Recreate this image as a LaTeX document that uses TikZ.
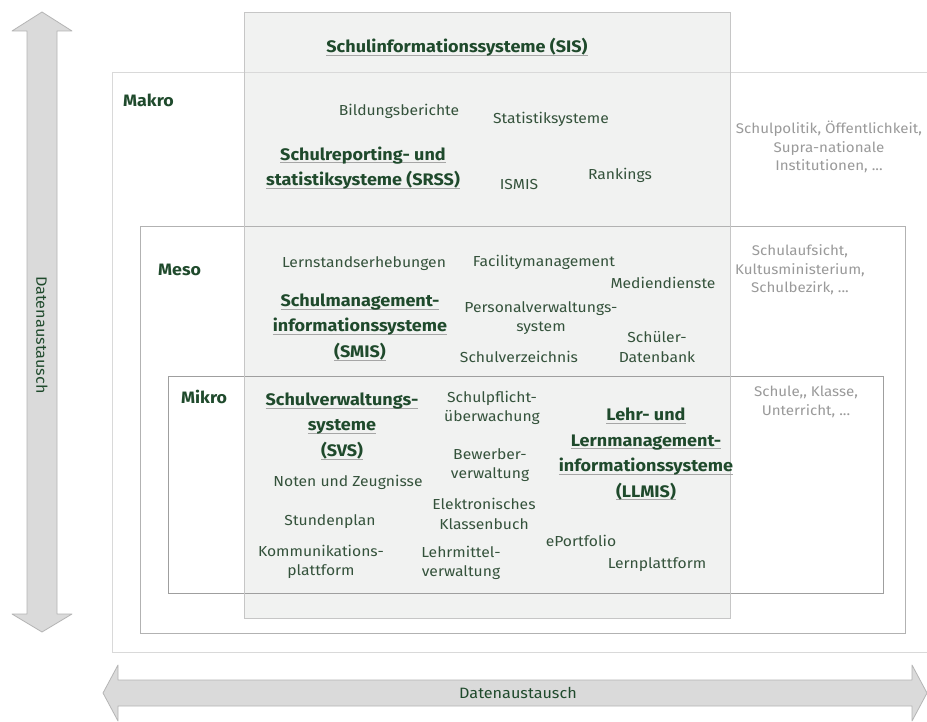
\documentclass[tikz,border=0pt]{standalone}
\usepackage{fontspec}
\setmainfont{Fira Sans}[FakeStretch=1.08]
\begin{document}
\definecolor{headc}{HTML}{1F4A2C}
\definecolor{itemc}{HTML}{34523B}
\definecolor{sidec}{HTML}{9A9A9A}
\definecolor{sisfill}{HTML}{F1F2F1}
\definecolor{arrfill}{HTML}{DADADA}
\definecolor{arrline}{HTML}{B5B5B5}
\newcommand{\hul}[1]{\setbox0\hbox{#1}\rlap{\color{gray!70}\rule[-3pt]{\wd0}{0.7pt}}\box0}
\begin{tikzpicture}[x=1pt,y=-1pt,
  itm/.style={text=itemc, font=\fontsize{14.5}{19.5}\selectfont, align=center, inner sep=0pt},
  hd/.style={text=headc, font=\fontsize{16.7}{25.5}\selectfont\bfseries, align=center, inner sep=0pt},
  sd/.style={text=sidec, font=\fontsize{14}{18.5}\selectfont, align=center, inner sep=0pt},
  lvl/.style={text=headc, font=\fontsize{16.5}{18}\selectfont\bfseries, anchor=west, inner sep=0pt},
  arr/.style={fill=arrfill, draw=arrline, line width=0.8pt, line join=round},
  dtx/.style={text=headc, font=\fontsize{15}{18}\selectfont, inner sep=0pt}]
\useasboundingbox (0,0) rectangle (927,722);
\fill[white] (0,0) rectangle (927,722);
% SIS background
\fill[sisfill] (244,12) rectangle (730,618);
% level boxes
\draw[gray!30, line width=1pt] (112,73) rectangle (935,652);
\draw[gray!60, line width=0.8pt] (140,226) rectangle (905,633);
\draw[gray!75, line width=0.8pt] (168,376) rectangle (883,593);
% SIS border
\draw[gray!45, line width=0.8pt] (244,12) rectangle (730,618);
% vertical arrow
\draw[arr] (42,12) -- (72,31) -- (57,31) -- (57,614) -- (72,614) -- (42,632)
  -- (12,614) -- (27,614) -- (27,31) -- (12,31) -- cycle;
\node[dtx, rotate=-90] (dv) at (42,335) {Datenaustausch};
% horizontal arrow
\draw[arr] (103,693) -- (118,665) -- (118,680) -- (912,680) -- (912,665) -- (927,693)
  -- (912,721) -- (912,706) -- (118,706) -- (118,721) -- cycle;
\node[dtx] (dh) at (518,693) {Datenaustausch};
% SIS title
\node[hd] (sis) at (457,47) {\hul{Schulinformationssysteme (SIS)}};
% Makro
\node[lvl] (makro) at (123,100) {Makro};
\node[itm] (bild) at (399,111) {Bildungsberichte};
\node[itm] (stat) at (551,119) {Statistiksysteme};
\node[hd] (srss) at (363,168) {\hul{Schulreporting- und}\\\hul{statistiksysteme (SRSS)}};
\node[itm] (ismis) at (519,185) {ISMIS};
\node[itm] (rank) at (620,175) {Rankings};
\node[sd] (s1) at (829,147) {Schulpolitik, Öffentlichkeit,\\Supra-nationale\\Institutionen, ...};
% Meso
\node[lvl] (meso) at (158,270) {Meso};
\node[itm] (lern) at (364,264) {Lernstandserhebungen};
\node[itm] (fac) at (544,262) {Facilitymanagement};
\node[itm] (med) at (663,283) {Mediendienste};
\node[hd] (smis) at (360,327) {\hul{Schulmanagement-}\\\hul{informationssysteme}\\\hul{(SMIS)}};
\node[itm] (pers) at (541,318) {Personalverwaltungs-\\system};
\node[itm] (sverz) at (519,357) {Schulverzeichnis};
\node[itm] (sdb) at (657,347) {Schüler-\\Datenbank};
\node[sd] (s2) at (800,270) {Schulaufsicht,\\Kultusministerium,\\Schulbezirk, ...};
% Mikro
\node[lvl] (mikro) at (181,397) {Mikro};
\node[hd] (svs) at (342,426) {\hul{Schulverwaltungs-}\\\hul{systeme}\\\hul{(SVS)}};
\node[itm] (spf) at (492,408) {Schulpflicht-\\überwachung};
\node[hd] (llmis) at (646,454) {\hul{Lehr- und}\\\hul{Lernmanagement-}\\\hul{informationssysteme}\\\hul{(LLMIS)}};
\node[itm] (bew) at (490,465) {Bewerber-\\verwaltung};
\node[itm] (noten) at (348,482) {Noten und Zeugnisse};
\node[itm] (ekb) at (484,514) {Elektronisches\\Klassenbuch};
\node[itm] (std) at (330,522) {Stundenplan};
\node[itm] (epf) at (581,541) {ePortfolio};
\node[itm] (komm) at (321,562) {Kommunikations-\\plattform};
\node[itm] (lmv) at (461,563) {Lehrmittel-\\verwaltung};
\node[itm] (lpf) at (657,565) {Lernplattform};
\node[sd] (s3) at (806,402) {Schule,{}, Klasse,\\Unterricht, ...};
\end{tikzpicture}
\end{document}
